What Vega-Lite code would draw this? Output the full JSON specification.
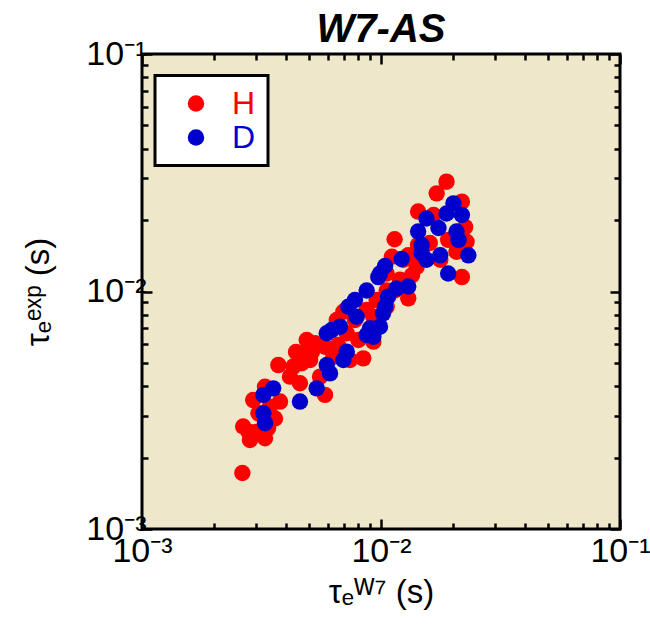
{
  "$schema": "https://vega.github.io/schema/vega-lite/v6.json",
  "width": 478,
  "height": 475,
  "autosize": {"type": "none"},
  "padding": {"left": 142, "top": 54, "right": 30, "bottom": 96},
  "background": "white",
  "title": {"text": "W7-AS", "font": "Liberation Sans", "fontSize": 40, "fontWeight": "bold", "fontStyle": "italic", "color": "black", "anchor": "middle", "offset": -13},
  "config": {
    "view": {"fill": "#EFE7C9", "stroke": "black", "strokeWidth": 3},
    "axis": {"domain": false, "grid": false, "tickColor": "black", "tickWidth": 2.5, "labelFont": "Liberation Sans", "labelFontSize": 34, "labelColor": "black", "titleFont": "Liberation Sans", "titleFontSize": 33, "titleFontWeight": "normal", "titleColor": "black", "labelFlush": false, "labelOverlap": false, "labelBound": false},
    "legend": {"strokeWidth": 3}
  },
  "data": {"values": [
    {"x": 0.00263, "y": 0.00172, "s": "H"},
    {"x": 0.00265, "y": 0.00270, "s": "H"},
    {"x": 0.00279, "y": 0.00257, "s": "H"},
    {"x": 0.00327, "y": 0.00241, "s": "H"},
    {"x": 0.00307, "y": 0.00307, "s": "H"},
    {"x": 0.00360, "y": 0.00292, "s": "H"},
    {"x": 0.00378, "y": 0.00344, "s": "H"},
    {"x": 0.00327, "y": 0.00397, "s": "H"},
    {"x": 0.00372, "y": 0.00490, "s": "H"},
    {"x": 0.00416, "y": 0.00438, "s": "H"},
    {"x": 0.00458, "y": 0.00411, "s": "H"},
    {"x": 0.00466, "y": 0.00499, "s": "H"},
    {"x": 0.00473, "y": 0.00549, "s": "H"},
    {"x": 0.00489, "y": 0.00625, "s": "H"},
    {"x": 0.00530, "y": 0.00605, "s": "H"},
    {"x": 0.00583, "y": 0.00585, "s": "H"},
    {"x": 0.00583, "y": 0.00367, "s": "H"},
    {"x": 0.00556, "y": 0.00438, "s": "H"},
    {"x": 0.00632, "y": 0.00531, "s": "H"},
    {"x": 0.00696, "y": 0.00822, "s": "H"},
    {"x": 0.00719, "y": 0.00667, "s": "H"},
    {"x": 0.00843, "y": 0.00523, "s": "H"},
    {"x": 0.00804, "y": 0.00625, "s": "H"},
    {"x": 0.00929, "y": 0.00615, "s": "H"},
    {"x": 0.00871, "y": 0.00836, "s": "H"},
    {"x": 0.00959, "y": 0.00921, "s": "H"},
    {"x": 0.01056, "y": 0.0101, "s": "H"},
    {"x": 0.01056, "y": 0.00863, "s": "H"},
    {"x": 0.0130, "y": 0.00936, "s": "H"},
    {"x": 0.0114, "y": 0.0166, "s": "H"},
    {"x": 0.0111, "y": 0.0140, "s": "H"},
    {"x": 0.0124, "y": 0.0136, "s": "H"},
    {"x": 0.0130, "y": 0.0142, "s": "H"},
    {"x": 0.0141, "y": 0.0127, "s": "H"},
    {"x": 0.0143, "y": 0.0217, "s": "H"},
    {"x": 0.0166, "y": 0.0210, "s": "H"},
    {"x": 0.0171, "y": 0.0259, "s": "H"},
    {"x": 0.0188, "y": 0.0290, "s": "H"},
    {"x": 0.0218, "y": 0.0239, "s": "H"},
    {"x": 0.0225, "y": 0.0187, "s": "H"},
    {"x": 0.0228, "y": 0.0162, "s": "H"},
    {"x": 0.0218, "y": 0.0115, "s": "H"},
    {"x": 0.0177, "y": 0.0136, "s": "H"},
    {"x": 0.0207, "y": 0.0147, "s": "H"},
    {"x": 0.00292, "y": 0.00349, "s": "H"},
    {"x": 0.00343, "y": 0.00327, "s": "H"},
    {"x": 0.00505, "y": 0.00515, "s": "H"},
    {"x": 0.00430, "y": 0.00483, "s": "H"},
    {"x": 0.00653, "y": 0.00759, "s": "H"},
    {"x": 0.00742, "y": 0.00515, "s": "H"},
    {"x": 0.00929, "y": 0.00783, "s": "H"},
    {"x": 0.0120, "y": 0.0112, "s": "H"},
    {"x": 0.0160, "y": 0.0160, "s": "H"},
    {"x": 0.01056, "y": 0.0119, "s": "H"},
    {"x": 0.00778, "y": 0.00759, "s": "H"},
    {"x": 0.00661, "y": 0.00595, "s": "H"},
    {"x": 0.00441, "y": 0.00556, "s": "H"},
    {"x": 0.00514, "y": 0.00556, "s": "H"},
    {"x": 0.00283, "y": 0.00237, "s": "H"},
    {"x": 0.00300, "y": 0.00256, "s": "H"},
    {"x": 0.00337, "y": 0.00266, "s": "H"},
    {"x": 0.01428, "y": 0.0157, "s": "H"},
    {"x": 0.01348, "y": 0.0117, "s": "H"},
    {"x": 0.0114, "y": 0.0101, "s": "H"},
    {"x": 0.0191, "y": 0.0165, "s": "H"},
    {"x": 0.0201, "y": 0.0235, "s": "D"},
    {"x": 0.0218, "y": 0.0210, "s": "D"},
    {"x": 0.0188, "y": 0.0213, "s": "D"},
    {"x": 0.0155, "y": 0.0203, "s": "D"},
    {"x": 0.0174, "y": 0.0185, "s": "D"},
    {"x": 0.0143, "y": 0.0179, "s": "D"},
    {"x": 0.0207, "y": 0.0179, "s": "D"},
    {"x": 0.0211, "y": 0.0165, "s": "D"},
    {"x": 0.0148, "y": 0.0157, "s": "D"},
    {"x": 0.0148, "y": 0.0145, "s": "D"},
    {"x": 0.0155, "y": 0.0136, "s": "D"},
    {"x": 0.0177, "y": 0.0142, "s": "D"},
    {"x": 0.0232, "y": 0.0142, "s": "D"},
    {"x": 0.0191, "y": 0.0119, "s": "D"},
    {"x": 0.0122, "y": 0.0137, "s": "D"},
    {"x": 0.0104, "y": 0.0128, "s": "D"},
    {"x": 0.00990, "y": 0.0119, "s": "D"},
    {"x": 0.00974, "y": 0.0115, "s": "D"},
    {"x": 0.0130, "y": 0.0105, "s": "D"},
    {"x": 0.0116, "y": 0.0103, "s": "D"},
    {"x": 0.00871, "y": 0.0101, "s": "D"},
    {"x": 0.0107, "y": 0.00951, "s": "D"},
    {"x": 0.00778, "y": 0.00921, "s": "D"},
    {"x": 0.00730, "y": 0.00863, "s": "D"},
    {"x": 0.0104, "y": 0.00863, "s": "D"},
    {"x": 0.0102, "y": 0.00809, "s": "D"},
    {"x": 0.00791, "y": 0.00783, "s": "D"},
    {"x": 0.00990, "y": 0.00711, "s": "D"},
    {"x": 0.00899, "y": 0.00700, "s": "D"},
    {"x": 0.00871, "y": 0.00656, "s": "D"},
    {"x": 0.00929, "y": 0.00645, "s": "D"},
    {"x": 0.00674, "y": 0.00711, "s": "D"},
    {"x": 0.00622, "y": 0.00688, "s": "D"},
    {"x": 0.00593, "y": 0.00667, "s": "D"},
    {"x": 0.00719, "y": 0.00558, "s": "D"},
    {"x": 0.00696, "y": 0.00515, "s": "D"},
    {"x": 0.00593, "y": 0.00490, "s": "D"},
    {"x": 0.00612, "y": 0.00452, "s": "D"},
    {"x": 0.00538, "y": 0.00391, "s": "D"},
    {"x": 0.00458, "y": 0.00344, "s": "D"},
    {"x": 0.00354, "y": 0.00391, "s": "D"},
    {"x": 0.00322, "y": 0.00367, "s": "D"},
    {"x": 0.00322, "y": 0.00307, "s": "D"},
    {"x": 0.00327, "y": 0.00279, "s": "D"}
  ]},
  "layer": [
    {
      "mark": {"type": "circle", "size": 270, "opacity": 1},
      "encoding": {
        "x": {"field": "x", "type": "quantitative", "scale": {"type": "log", "domain": [0.001, 0.1], "nice": false},
              "axis": {"orient": "bottom", "values": [0.001, 0.01, 0.1], "tickSize": -10, "labelPadding": 15, "titlePadding": 8,
                       "labelExpr": "datum.value < 0.005 ? '10⁻³' : datum.value < 0.05 ? '10⁻²' : '10⁻¹'", "title": "τₑᵂ⁷ (s)"}},
        "y": {"field": "y", "type": "quantitative", "scale": {"type": "log", "domain": [0.001, 0.1], "nice": false},
              "axis": {"orient": "left", "values": [0.001, 0.01, 0.1], "tickSize": -10, "labelPadding": 6, "titlePadding": 30,
                       "labelExpr": "datum.value < 0.005 ? '10⁻³' : datum.value < 0.05 ? '10⁻²' : '10⁻¹'", "title": "τₑᵉˣᵖ (s)"}},
        "color": {"field": "s", "type": "nominal", "scale": {"domain": ["H", "D"], "range": ["#FF0000", "#0000CC"]},
                  "legend": {"title": null, "orient": "none", "legendX": 13, "legendY": 21.5, "fillColor": "white", "strokeColor": "black",
                             "padding": 12, "symbolType": "circle", "symbolSize": 270, "symbolOffset": 13, "labelOffset": 20, "rowPadding": 2,
                             "labelFont": "Liberation Sans", "labelFontSize": 32,
                             "labelColor": {"expr": "datum.value === 'H' ? '#FF0000' : '#0000CC'"}}}
      }
    },
    {
      "mark": {"type": "point", "opacity": 0},
      "encoding": {
        "x": {"field": "x", "type": "quantitative", "scale": {"type": "log", "domain": [0.001, 0.1], "nice": false},
              "axis": {"orient": "bottom", "values": [0.002, 0.003, 0.004, 0.005, 0.006, 0.007, 0.008, 0.009, 0.02, 0.03, 0.04, 0.05, 0.06, 0.07, 0.08, 0.09], "tickSize": -6, "labels": false, "title": null}},
        "y": {"field": "y", "type": "quantitative", "scale": {"type": "log", "domain": [0.001, 0.1], "nice": false},
              "axis": {"orient": "left", "values": [0.002, 0.003, 0.004, 0.005, 0.006, 0.007, 0.008, 0.009, 0.02, 0.03, 0.04, 0.05, 0.06, 0.07, 0.08, 0.09], "tickSize": -6, "labels": false, "title": null}}
      }
    },
    {
      "mark": {"type": "point", "opacity": 0},
      "encoding": {
        "x": {"field": "x", "type": "quantitative", "scale": {"type": "log", "domain": [0.001, 0.1], "nice": false},
              "axis": {"orient": "top", "values": [0.001, 0.01, 0.1], "tickSize": -10, "labels": false, "title": null}},
        "y": {"field": "y", "type": "quantitative", "scale": {"type": "log", "domain": [0.001, 0.1], "nice": false},
              "axis": {"orient": "right", "values": [0.001, 0.01, 0.1], "tickSize": -10, "labels": false, "title": null}}
      }
    },
    {
      "mark": {"type": "point", "opacity": 0},
      "encoding": {
        "x": {"field": "x", "type": "quantitative", "scale": {"type": "log", "domain": [0.001, 0.1], "nice": false},
              "axis": {"orient": "top", "values": [0.002, 0.003, 0.004, 0.005, 0.006, 0.007, 0.008, 0.009, 0.02, 0.03, 0.04, 0.05, 0.06, 0.07, 0.08, 0.09], "tickSize": -6, "labels": false, "title": null}},
        "y": {"field": "y", "type": "quantitative", "scale": {"type": "log", "domain": [0.001, 0.1], "nice": false},
              "axis": {"orient": "right", "values": [0.002, 0.003, 0.004, 0.005, 0.006, 0.007, 0.008, 0.009, 0.02, 0.03, 0.04, 0.05, 0.06, 0.07, 0.08, 0.09], "tickSize": -6, "labels": false, "title": null}}
      }
    }
  ],
  "resolve": {"axis": {"x": "independent", "y": "independent"}}
}
